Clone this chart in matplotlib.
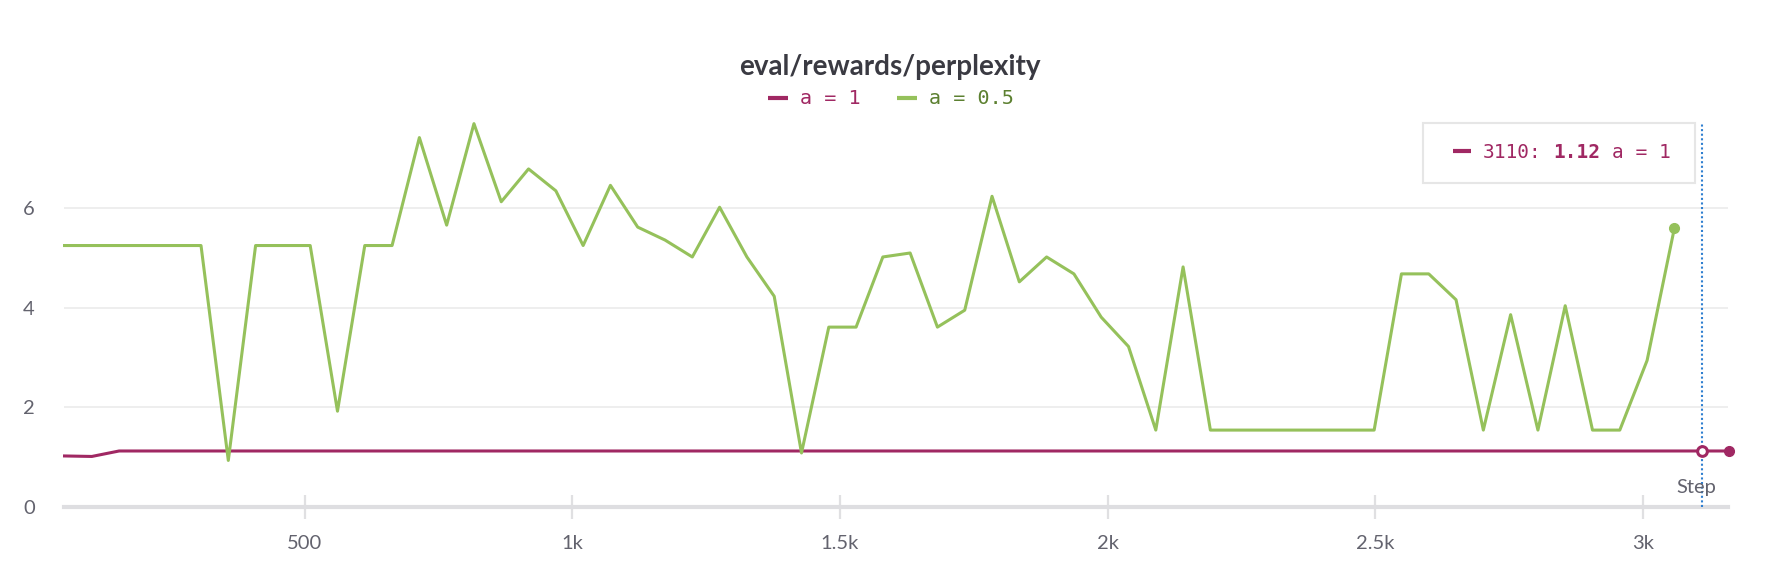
import numpy as np
import matplotlib
matplotlib.use("Agg")
import matplotlib.pyplot as plt
from matplotlib.lines import Line2D
from matplotlib.patches import Rectangle

# eval steps (one eval every ~51 steps, cursor sits on 3110)
steps = np.round(np.arange(1, 63) * 3110 / 61)

a1_values = [1.02, 1.01, 1.12, 1.12, 1.12, 1.12, 1.12, 1.12, 1.12, 1.12,
             1.12, 1.12, 1.12, 1.12, 1.12, 1.12, 1.12, 1.12, 1.12, 1.12,
             1.12, 1.12, 1.12, 1.12, 1.12, 1.12, 1.12, 1.12, 1.12, 1.12,
             1.12, 1.12, 1.12, 1.12, 1.12, 1.12, 1.12, 1.12, 1.12, 1.12,
             1.12, 1.12, 1.12, 1.12, 1.12, 1.12, 1.12, 1.12, 1.12, 1.12,
             1.12, 1.12, 1.12, 1.12, 1.12, 1.12, 1.12, 1.12, 1.12, 1.12,
             1.12, 1.12]

a05_values = [5.25, 5.25, 5.25, 5.25, 5.25, 5.25, 0.93, 5.25, 5.25, 5.25,
              1.92, 5.25, 5.25, 7.42, 5.66, 7.7, 6.13, 6.79, 6.35, 5.25,
              6.46, 5.62, 5.36, 5.02, 6.02, 5.02, 4.23, 1.08, 3.61, 3.61,
              5.02, 5.1, 3.61, 3.95, 6.24, 4.52, 5.02, 4.68, 3.81, 3.22,
              1.54, 4.82, 1.54, 1.54, 1.54, 1.54, 1.54, 1.54, 1.54, 4.68,
              4.68, 4.16, 1.54, 3.86, 1.54, 4.04, 1.54, 1.54, 2.94, 5.6]

x_ticks = [500, 1000, 1500, 2000, 2500, 3000]
x_tick_labels = ["500", "1k", "1.5k", "2k", "2.5k", "3k"]
y_ticks = [0, 2, 4, 6]
cursor_step = 3110

PURPLE = "#a02863"
GREEN = "#95c15b"
GREEN_TEXT = "#5c8030"
GRAY_TXT = "#63636e"

W, H = 1774, 586


def fx(px):
    return px / W


def fy(py):
    return 1 - py / H


fig = plt.figure(figsize=(W / 100, H / 100), dpi=100)
ax = fig.add_axes([fx(64), fy(506.7), fx(1727.7) - fx(64), fy(123) - fy(506.7)])

n_green = len(a05_values)
ax.plot(steps, a1_values, color=PURPLE, lw=2.2, zorder=3, clip_on=False)
ax.plot(steps[:n_green], a05_values, color=GREEN, lw=2.2, zorder=4, clip_on=False)

# end dots
ax.plot(steps[-1], a1_values[-1], "o", color=PURPLE, ms=7, zorder=5, clip_on=False)
ax.plot(steps[n_green - 1], a05_values[-1], "o", color=GREEN, ms=7, zorder=5, clip_on=False)

# hover cursor
ax.axvline(cursor_step, color="#2f7fd0", lw=1.5, ls=(0, (1, 1.2)), zorder=6)
ax.plot(cursor_step, a1_values[-2], "o", mfc="white", mec=PURPLE, mew=2.2, ms=7,
        zorder=7, clip_on=False)

ax.set_xlim(50, 3158.6)
ax.set_ylim(0, 7.713)

ax.set_xticks(x_ticks)
ax.set_xticklabels(x_tick_labels)
ax.set_yticks(y_ticks)
ax.grid(axis="y", color="#ebebeb", lw=1.2)
ax.set_axisbelow(True)

for s in ["top", "right", "left"]:
    ax.spines[s].set_visible(False)
ax.spines["bottom"].set_color("#dedee1")
ax.spines["bottom"].set_linewidth(3)

ax.tick_params(axis="x", direction="inout", length=17, width=1.6, color="#e0e0e2",
               labelsize=14.5, labelcolor=GRAY_TXT, pad=12)
ax.tick_params(axis="y", length=0, labelsize=14.5, labelcolor=GRAY_TXT, pad=21)
for lab in ax.get_xticklabels() + ax.get_yticklabels():
    lab.set_fontfamily("Lato")

fig.text(fx(1716), fy(488), "Step", ha="right", va="center", fontsize=14.5,
         color=GRAY_TXT, family="Lato")

# title
fig.text(fx(889.5), fy(67), "eval/rewards/perplexity", ha="center", va="center",
         fontsize=20, fontweight="bold", color="#3a3a42", family="Lato")

# legend row
fig.add_artist(Line2D([fx(768), fx(788)], [fy(97.5), fy(97.5)], color=PURPLE, lw=3,
                      solid_capstyle="butt"))
fig.text(fx(800), fy(99), "a = 1", ha="left", va="center", fontsize=14.5,
         color=PURPLE, family="DejaVu Sans Mono")
fig.add_artist(Line2D([fx(897), fx(917)], [fy(97.5), fy(97.5)], color=GREEN, lw=3,
                      solid_capstyle="butt"))
fig.text(fx(929), fy(99), "a = 0.5", ha="left", va="center", fontsize=14.5,
         color=GREEN_TEXT, family="DejaVu Sans Mono")

# tooltip box
fig.add_artist(Rectangle((fx(1423), fy(183)), fx(1695) - fx(1423), fy(123) - fy(183),
                         facecolor="white", edgecolor="#e6e6e6", lw=1.5,
                         transform=fig.transFigure))
fig.add_artist(Line2D([fx(1453), fx(1471)], [fy(151), fy(151)], color=PURPLE, lw=3,
                      solid_capstyle="butt"))
cw = 11.7
fig.text(fx(1483), fy(152), "3110:", ha="left", va="center", fontsize=14,
         color=PURPLE, family="DejaVu Sans Mono")
fig.text(fx(1483 + 6 * cw), fy(152), "1.12", ha="left", va="center", fontsize=14,
         color=PURPLE, family="DejaVu Sans Mono", fontweight="bold")
fig.text(fx(1483 + 11 * cw), fy(152), "a = 1", ha="left", va="center", fontsize=14,
         color=PURPLE, family="DejaVu Sans Mono")

fig.savefig("out.png", dpi=100, facecolor="white")
